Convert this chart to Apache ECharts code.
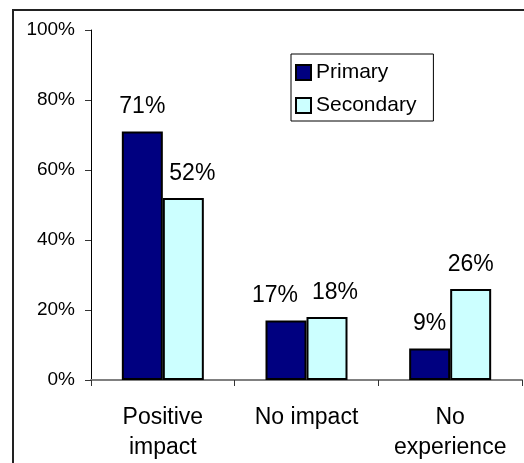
<!DOCTYPE html>
<html>
<head>
<meta charset="utf-8">
<script src="https://cdn.jsdelivr.net/npm/echarts@6/dist/echarts.min.js"></script>
<style>
  html, body { margin: 0; padding: 0; background: #fff; }
  #chart { width: 524px; height: 463px; }
</style>
</head>
<body>
<div id="chart"></div>
<script>
// Share of respondents by reported impact, primary vs secondary
const categories = ['Positive\nimpact', 'No impact', 'No\nexperience'];
const primaryValues = [71, 17, 9];
const secondaryValues = [52, 18, 26];
const yTicks = [0, 20, 40, 60, 80, 100];

const FONT = '"Liberation Sans", Arial, sans-serif';

// Horizontal nudges for value labels that would otherwise crowd each other
const labelNudge = {
  Primary: { 1: -11 },
  Secondary: { 0: 9, 1: 8 }
};

function buildData(name, values) {
  return values.map((v, i) => {
    const dx = labelNudge[name][i];
    return dx ? { value: v, label: { offset: [dx, 0] } } : v;
  });
}

function barSeries(name, values, color) {
  return {
    name: name,
    type: 'bar',
    data: buildData(name, values),
    barWidth: 41,
    barGap: '0%',
    itemStyle: { color: color, borderColor: '#000', borderWidth: 2 },
    label: {
      show: true,
      position: 'top',
      distance: 13,
      formatter: p => p.value + '%',
      color: '#000',
      fontSize: 23,
      fontFamily: FONT
    },
    emphasis: { disabled: true }
  };
}

const chart = echarts.init(document.getElementById('chart'), null, { renderer: 'canvas' });
chart.setOption({
  animation: false,
  backgroundColor: '#fff',
  graphic: [{
    type: 'rect',
    shape: { x: 13, y: 10, width: 700, height: 700 },
    style: { fill: 'none', stroke: '#222', lineWidth: 2 },
    silent: true
  }],
  grid: { left: 91, right: 2, top: 30, bottom: 83 },
  legend: {
    orient: 'vertical',
    left: 291,
    top: 54,
    padding: [8, 17, 5, 4],
    itemGap: 12,
    itemWidth: 15,
    itemHeight: 15,
    itemTextGap: 8,
    icon: 'rect',
    borderColor: '#000',
    borderWidth: 1,
    textStyle: { fontSize: 21, fontFamily: FONT, color: '#000' },
    data: ['Primary', 'Secondary']
  },
  xAxis: {
    type: 'category',
    data: categories,
    axisLine: { lineStyle: { color: '#808080', width: 2 } },
    axisTick: { show: true, length: 6, lineStyle: { color: '#333', width: 1 } },
    axisLabel: {
      color: '#000',
      fontSize: 23,
      fontFamily: FONT,
      lineHeight: 30,
      margin: 23,
      interval: 0
    }
  },
  yAxis: {
    type: 'value',
    min: yTicks[0],
    max: yTicks[yTicks.length - 1],
    interval: yTicks[1] - yTicks[0],
    axisLine: { show: true, lineStyle: { color: '#000', width: 1 } },
    axisTick: { show: true, length: 6, lineStyle: { color: '#333', width: 1 } },
    splitLine: { show: false },
    axisLabel: {
      color: '#000',
      fontSize: 19,
      fontFamily: FONT,
      margin: 16,
      formatter: '{value}%'
    }
  },
  series: [
    barSeries('Primary', primaryValues, '#000080'),
    barSeries('Secondary', secondaryValues, '#CCFFFF')
  ]
});
</script>
</body>
</html>
